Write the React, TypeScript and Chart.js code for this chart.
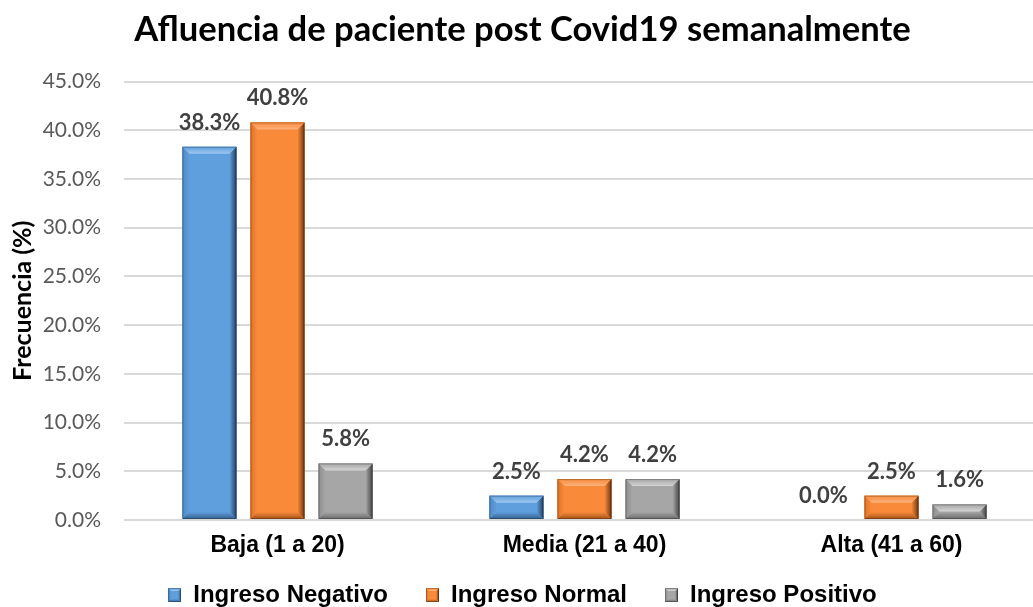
import React, { useEffect, useRef } from "react";
import { Chart, registerables } from "chart.js";

Chart.register(...registerables);

const categories = ["Baja (1 a 20)", "Media (21 a 40)", "Alta (41 a 60)"];
const seriesNames = ["Ingreso Negativo", "Ingreso Normal", "Ingreso Positivo"];
const negativo = [38.3, 2.5, 0.0];
const normal = [40.8, 4.2, 2.5];
const positivo = [5.8, 4.2, 1.6];
const yMin = 0;
const yMax = 45;
const yStep = 5;
const titleText = "Afluencia de paciente post Covid19 semanalmente";
const yTitle = "Frecuencia (%)";

type Pal = { face: string; top: string; left: string; right: string; bottom: string };
const palettes: Pal[] = [
  { face: "#5f9fdd", top: "#9cc7f0", left: "#4f8ac4", right: "#22405f", bottom: "#34608c" },
  { face: "#f88a3a", top: "#fcb27c", left: "#e07328", right: "#6e3510", bottom: "#a4521a" },
  { face: "#a6a6a6", top: "#d4d4d4", left: "#8e8e8e", right: "#444444", bottom: "#6a6a6a" },
];

function drawBevel(ctx: CanvasRenderingContext2D, L: number, T: number, R: number, B: number, p: Pal, bev: number) {
  const w = R - L;
  const h = B - T;
  if (w <= 0 || h <= 0) return;
  const b = Math.max(0, Math.min(bev, w / 2, h / 2));
  ctx.save();
  ctx.fillStyle = p.face;
  ctx.fillRect(L, T, w, h);
  const poly = (pts: number[][], fill: string | CanvasGradient) => {
    ctx.beginPath();
    ctx.moveTo(pts[0][0], pts[0][1]);
    for (let i = 1; i < pts.length; i++) ctx.lineTo(pts[i][0], pts[i][1]);
    ctx.closePath();
    ctx.fillStyle = fill;
    ctx.fill();
  };
  const gl = ctx.createLinearGradient(L, 0, L + b, 0);
  gl.addColorStop(0, p.left);
  gl.addColorStop(1, p.face);
  poly([[L, T], [L + b, T + b], [L + b, B - b], [L, B]], gl);
  const gr = ctx.createLinearGradient(R - b, 0, R, 0);
  gr.addColorStop(0, p.face);
  gr.addColorStop(1, p.right);
  poly([[R, T], [R - b, T + b], [R - b, B - b], [R, B]], gr);
  const gt = ctx.createLinearGradient(0, T, 0, T + b);
  gt.addColorStop(0, p.face);
  gt.addColorStop(1, p.top);
  poly([[L, T], [R, T], [R - b, T + b], [L + b, T + b]], gt);
  const gb = ctx.createLinearGradient(0, B - b, 0, B);
  gb.addColorStop(0, p.face);
  gb.addColorStop(1, p.bottom);
  poly([[L, B], [R, B], [R - b, B - b], [L + b, B - b]], gb);
  ctx.lineWidth = 1;
  ctx.strokeStyle = "rgba(0,0,0,0.25)";
  ctx.strokeRect(L + 0.5, T + 0.5, w - 1, h - 1);
  ctx.restore();
}

function legendMarker(p: Pal): HTMLCanvasElement {
  const c = document.createElement("canvas");
  c.width = 13;
  c.height = 14;
  const ctx = c.getContext("2d");
  if (ctx) drawBevel(ctx, 0, 0, 13, 14, p, 3);
  return c;
}

const bevelPlugin = {
  id: "bevelBars",
  afterDatasetDraw(chart: any, args: any) {
    const ctx = chart.ctx;
    const meta = args.meta;
    const p = palettes[args.index];
    meta.data.forEach((el: any) => {
      const half = el.width / 2;
      const top = Math.min(el.y, el.base);
      const bot = Math.max(el.y, el.base);
      drawBevel(ctx, el.x - half, top, el.x + half, bot, p, 7);
    });
  },
};

const labelPlugin = {
  id: "valueLabels",
  afterDatasetsDraw(chart: any) {
    const ctx = chart.ctx;
    ctx.save();
    ctx.font = "bold 22px Lato";
    ctx.fillStyle = "#404040";
    ctx.textAlign = "center";
    ctx.textBaseline = "alphabetic";
    chart.data.datasets.forEach((ds: any, i: number) => {
      const meta = chart.getDatasetMeta(i);
      meta.data.forEach((el: any, j: number) => {
        const v = ds.data[j] as number;
        ctx.fillText(v.toFixed(1) + "%", el.x, el.y - 17);
      });
    });
    ctx.restore();
  },
};

const legendFitPlugin = {
  id: "legendFit",
  afterInit(chart: any) {
    const lg = chart.legend;
    if (!lg) return;
    const origFit = lg.fit.bind(lg);
    lg.fit = function () {
      origFit();
      this.height = 38;
    };
    const origInner = lg._draw.bind(lg);
    lg._draw = function (...args: any[]) {
      const c = chart.ctx;
      c.save();
      c.translate(0, -24);
      origInner(...args);
      c.restore();
    };
  },
};

export default function App() {
  const ref = useRef<HTMLCanvasElement | null>(null);
  useEffect(() => {
    if (!ref.current) return;
    const seriesData = [negativo, normal, positivo];
    const chart = new Chart(ref.current, {
      type: "bar",
      data: {
        labels: categories,
        datasets: seriesNames.map((name, i) => ({
          label: name,
          data: seriesData[i],
          backgroundColor: palettes[i].face,
          borderWidth: 0,
          pointStyle: legendMarker(palettes[i]) as any,
          categoryPercentage: 0.665,
          barPercentage: 0.794,
        })),
      },
      options: {
        animation: false,
        responsive: true,
        maintainAspectRatio: false,
        layout: { padding: { left: 0, right: 0, top: 0, bottom: 0 } },
        plugins: {
          title: {
            display: true,
            text: titleText,
            color: "#000000",
            font: { family: "Lato", size: 34.6, weight: "bold" },
            padding: { top: 9, bottom: 31 },
          },
          legend: {
            position: "bottom",
            labels: {
              usePointStyle: true,
              boxWidth: 13,
              boxHeight: 14,
              color: "#000000",
              font: { family: "'Liberation Sans', Arial", size: 24, weight: "bold" },
              padding: 38,
            },
          },
          tooltip: { enabled: false },
        },
        scales: {
          x: {
            grid: { display: false },
            border: { display: false },
            afterFit(scale: any) {
              scale.height = 49;
            },
            ticks: {
              color: "#000000",
              font: { family: "'Liberation Sans', Arial", size: 23, weight: "bold" },
              padding: 4,
            },
          },
          y: {
            min: yMin,
            max: yMax,
            afterFit(scale: any) {
              scale.width = 124;
            },
            ticks: {
              stepSize: yStep,
              color: "#595959",
              font: { family: "Lato", size: 21 },
              padding: 23,
              callback: (v: any) => Number(v).toFixed(1) + "%",
            },
            grid: { color: "#d9d9d9", lineWidth: 2, drawTicks: false },
            border: { display: false },
            title: {
              display: true,
              text: yTitle,
              color: "#000000",
              font: { family: "Lato", size: 25, weight: "bold" },
              padding: { top: 8, bottom: 0 },
            },
          },
        },
      },
      plugins: [legendFitPlugin, bevelPlugin, labelPlugin],
    });
    return () => chart.destroy();
  }, []);
  return (
    <div style={{ position: "fixed", left: 0, top: 0, width: 1033, height: 607, overflow: "hidden", background: "#ffffff" }}>
      <div style={{ position: "relative", width: 1045, height: 607 }}>
        <canvas ref={ref} />
      </div>
    </div>
  );
}
